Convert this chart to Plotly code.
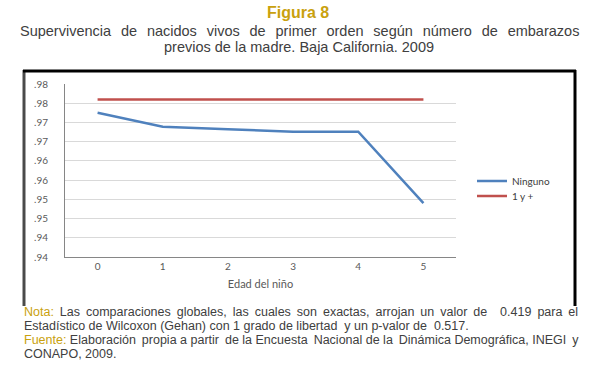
import plotly.graph_objects as go

edad = [0, 1, 2, 3, 4, 5]
ninguno = [0.9775, 0.9739, 0.9732, 0.9726, 0.9726, 0.9540]
uno_mas = [0.9810, 0.9810, 0.9810, 0.9810, 0.9810, 0.9810]
y_ticks = [0.940, 0.945, 0.950, 0.955, 0.960, 0.965, 0.970, 0.975, 0.980, 0.985]
y_labels = [".94", ".94", ".95", ".95", ".96", ".96", ".97", ".97", ".98", ".98"]

W, H = 595, 381
L, R, T, B = 65, 456, 84, 257  # plot area in page pixels

def px(x):
    return (x - L) / (R - L)

def py(y):
    return (B - y) / (B - T)

TS = "\u2009"  # thin space used to imitate justified text
NB = "\u00a0"

def justify(words, extra):
    out = words[0]
    for i, w in enumerate(words[1:]):
        out += " " + TS * extra[i % len(extra)] + w
    return out

fig = go.Figure()
fig.add_trace(go.Scatter(x=edad, y=ninguno, mode="lines", name="Ninguno",
                         line=dict(color="#4F81BD", width=2.5), legend="legend"))
fig.add_trace(go.Scatter(x=edad, y=uno_mas, mode="lines", name="1 y +",
                         line=dict(color="#C0504D", width=2.5), legend="legend2"))

cal = "Lato, Open Sans, sans-serif"
tickfont = dict(family=cal, size=10, color="#595959")
fig.update_xaxes(range=[-0.5, 5.5], tickvals=edad, ticktext=[str(e) for e in edad],
                 showgrid=False, showline=True, linecolor="#868686", linewidth=1,
                 ticks="", tickfont=tickfont, zeroline=False,
                 title=dict(text="Edad del niño", font=dict(family=cal, size=11, color="#595959"), standoff=9))
fig.update_yaxes(range=[0.940, 0.985], tickvals=y_ticks, ticktext=y_labels,
                 showgrid=True, gridcolor="#D9D9D9", gridwidth=1,
                 showline=True, linecolor="#868686", linewidth=1,
                 ticks="outside", ticklen=14, tickcolor="rgba(0,0,0,0)",
                 tickfont=tickfont, zeroline=False)

gold = "#C9A10E"
text_gray = "#404040"
arial = "Liberation Sans, Arial"

sub1 = justify("Supervivencia de nacidos vivos de primer orden según número de embarazos".split(), [2])
nota1 = justify(("<span style='color:%s'>Nota:</span> Las comparaciones globales, las cuales son exactas, arrojan un valor de"
                 % gold).split(" ") + [NB + " 0.419", "para", "el"], [1])
nota1 = nota1.replace("<span" + " " + TS + "style", "<span style")
fuente1 = ("<span style='color:%s'>Fuente:</span> " % gold) + justify(
    "Elaboración propia a partir de la Encuesta Nacional de la Dinámica Demográfica, INEGI y".split(), [1, 0, 0])

annotations = [
    dict(text="<b>Figura 8</b>", x=px(297.5), y=py(12),
         font=dict(family=arial, size=16, color=gold), xanchor="center"),
    dict(text=sub1, x=px(299), y=py(31),
         font=dict(family=arial, size=14.5, color=text_gray), xanchor="center"),
    dict(text="previos de la madre. Baja California. 2009",
         x=px(299), y=py(47),
         font=dict(family=arial, size=14.5, color=text_gray), xanchor="center"),
]
note_lines = [
    (nota1, 312),
    ("Estadístico de Wilcoxon (Gehan) con 1 grado de libertad" + NB + " y un p-valor de" + NB + " 0.517.", 326),
    (fuente1, 340),
    ("CONAPO, 2009.", 354),
]
for t, yy in note_lines:
    annotations.append(dict(text=t, x=px(22), y=py(yy), xanchor="left",
                            font=dict(family=arial, size=12.5, color=text_gray)))
for a in annotations:
    a.update(xref="paper", yref="paper", showarrow=False, yanchor="middle")

shapes = [
    dict(type="line", x0=px(24), x1=px(24), y0=py(70), y1=py(306),
         line=dict(color="#4A4A4A", width=3)),
    dict(type="line", x0=px(23), x1=px(576), y0=py(71), y1=py(71),
         line=dict(color="#000000", width=3)),
    dict(type="line", x0=px(575), x1=px(575), y0=py(70), y1=py(306),
         line=dict(color="#000000", width=3)),
]
for s in shapes:
    s.update(xref="paper", yref="paper")

legfont = dict(family=cal, size=10, color="#404040")
fig.update_layout(
    width=W, height=H, autosize=False,
    margin=dict(l=L, r=W - R, t=T, b=H - B),
    paper_bgcolor="white", plot_bgcolor="white",
    showlegend=True,
    legend=dict(x=px(472), y=py(181), xanchor="left", yanchor="middle",
                font=legfont, bgcolor="rgba(0,0,0,0)"),
    legend2=dict(x=px(472), y=py(196), xanchor="left", yanchor="middle",
                 font=legfont, bgcolor="rgba(0,0,0,0)"),
    annotations=annotations, shapes=shapes,
)

fig.write_html("out.html", config={"displayModeBar": False},
               post_script="document.body.style.margin='0';")
